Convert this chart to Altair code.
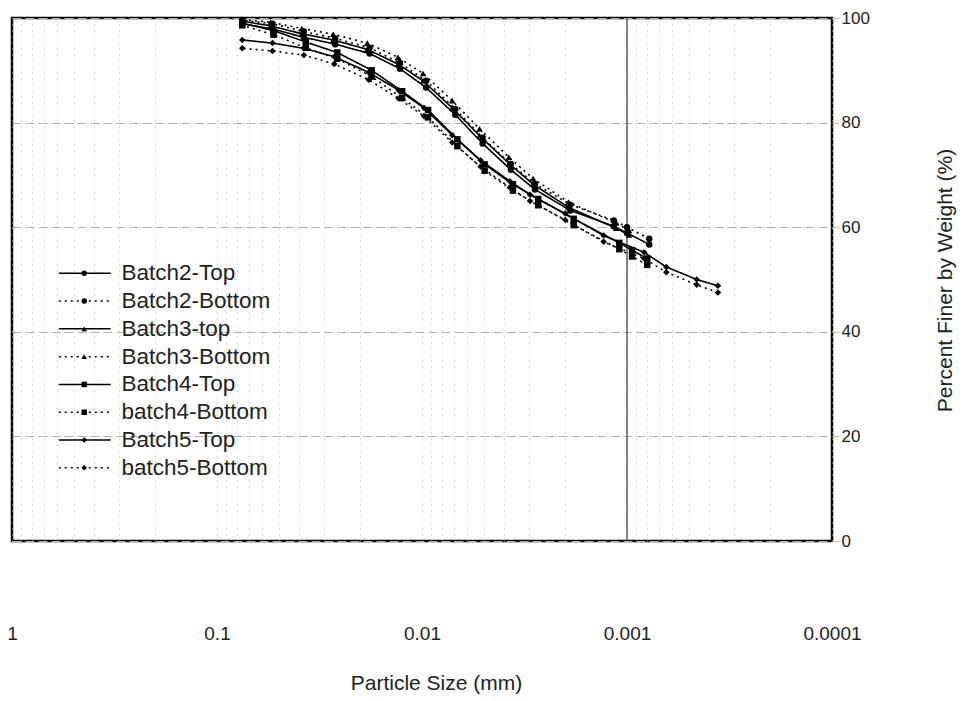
import altair as alt
import pandas as pd

series_names = ["Batch2-Top", "Batch2-Bottom", "Batch3-top", "Batch3-Bottom",
                "Batch4-Top", "batch4-Bottom", "Batch5-Top", "batch5-Bottom"]

# Particle sizes (mm) and percent finer
b2_size = [0.0753, 0.0536, 0.0377, 0.0265, 0.0180, 0.0128, 0.00955, 0.00688,
           0.00506, 0.00369, 0.00281, 0.00189, 0.00116, 0.00100, 0.000779]
b2_top = [98.9, 97.9, 96.3, 95.0, 93.2, 90.3, 86.7, 81.5, 76.0, 71.0, 67.2, 63.2, 60.2, 58.9, 56.7]
b2_bot = [99.6, 98.9, 97.4, 96.1, 94.3, 91.4, 88.0, 82.6, 77.1, 72.1, 68.3, 64.3, 61.3, 60.0, 57.8]

b3_size = [0.0753, 0.0548, 0.0386, 0.0271, 0.0185, 0.0131, 0.00989, 0.00712,
           0.00524, 0.00377, 0.00287, 0.00193, 0.00113, 0.000977]
b3_top = [99.4, 98.5, 97.0, 95.8, 94.0, 91.2, 88.0, 82.8, 77.5, 72.2, 68.2, 63.8, 59.8, 58.5]
b3_bot = [99.7, 99.2, 98.0, 96.9, 95.2, 92.5, 89.4, 84.2, 78.8, 73.4, 69.3, 64.8, 60.8, 59.4]

b4_size = [0.0753, 0.0530, 0.0369, 0.0259, 0.0176, 0.0125, 0.00934, 0.00672,
           0.00495, 0.00360, 0.00271, 0.00182, 0.00109, 0.000945, 0.000797]
b4_top = [99.0, 97.6, 95.4, 93.4, 90.0, 86.0, 82.4, 76.8, 72.0, 68.2, 65.4, 61.6, 57.0, 55.6, 54.0]
b4_bot = [98.6, 96.8, 94.3, 92.2, 88.8, 84.7, 81.0, 75.5, 70.8, 67.0, 64.2, 60.4, 55.8, 54.4, 52.8]

b5_size = [0.0753, 0.0536, 0.0377, 0.0268, 0.0182, 0.0130, 0.00977, 0.00712, 0.00518,
           0.00373, 0.00297, 0.00200, 0.00130, 0.000825, 0.000643, 0.000457, 0.000360]
b5_top = [95.8, 95.2, 94.2, 92.6, 89.6, 86.2, 82.8, 77.6, 72.8, 68.8, 66.2, 62.6, 58.4,
          55.2, 52.4, 50.0, 48.8]
b5_bot = [94.2, 93.7, 92.9, 91.2, 88.2, 84.6, 81.2, 76.2, 71.6, 67.6, 65.0, 61.4, 57.2,
          54.0, 51.4, 49.0, 47.5]

y_ticks = [0, 20, 40, 60, 80, 100]
solid_grid = [0.001]

sets = [
    ("Batch2-Top", b2_size, b2_top), ("Batch2-Bottom", b2_size, b2_bot),
    ("Batch3-top", b3_size, b3_top), ("Batch3-Bottom", b3_size, b3_bot),
    ("Batch4-Top", b4_size, b4_top), ("batch4-Bottom", b4_size, b4_bot),
    ("Batch5-Top", b5_size, b5_top), ("batch5-Bottom", b5_size, b5_bot),
]
rows = []
for name, sizes, vals in sets:
    for d, v in zip(sizes, vals):
        rows.append({"size": d, "pct": v, "series": name, "marker": name})
df = pd.DataFrame(rows)

dash_range = [[1, 0], [2, 4], [1, 0], [2, 4], [1, 0], [2, 4], [1, 0], [2, 4]]
shape_range = ["circle", "circle", "triangle-up", "triangle-up",
               "square", "square", "diamond", "diamond"]

grid_vals = sorted({round(m * 10 ** k, 6) for k in range(-4, 0) for m in range(1, 10)} | {1.0})
label_expr = ("datum.value == 1 ? '1' : datum.value == 0.1 ? '0.1' : datum.value == 0.01 ? '0.01' : "
              "datum.value == 0.001 ? '0.001' : datum.value == 0.0001 ? '0.0001' : ''")

FONT = "Liberation Sans"
xscale = alt.Scale(type="log", domain=[0.0001, 1], reverse=True, nice=False)
yscale = alt.Scale(domain=[0, 100], nice=False)

x_axis = alt.Axis(values=grid_vals, labelExpr=label_expr, grid=True, gridColor="#b5b5b5",
                  gridDash=[1, 5], gridWidth=1, ticks=False, domain=False,
                  labelPadding=83, labelFontSize=19, labelFont=FONT, labelColor="#222",
                  labelOverlap=False, labelFlush=False,
                  title="Particle Size (mm)", titleFont=FONT, titleFontSize=21,
                  titleFontWeight="normal", titleColor="#222", titleX=424, titleY=142,
                  titleBaseline="middle", titleAlign="center")
y_axis = alt.Axis(orient="right", values=y_ticks, grid=True, gridColor="#b0b0b0",
                  gridDash=[9, 4], gridWidth=1, tickColor="#bbbbbb", tickSize=7,
                  domain=False, labelPadding=2, labelFontSize=17, labelFont=FONT,
                  labelColor="#222", title="Percent Finer by Weight (%)", titleFont=FONT,
                  titleFontSize=21, titleFontWeight="normal", titleColor="#222",
                  titleAngle=270, titleX=113, titleY=262, titleAlign="center",
                  titleBaseline="middle")

base = alt.Chart(df)

rule = alt.Chart(pd.DataFrame({"size": solid_grid})).mark_rule(
    color="#444", strokeWidth=1.3).encode(x=alt.X("size:Q", scale=xscale))

lines = base.mark_line(color="black", strokeWidth=1.6).encode(
    x=alt.X("size:Q", scale=xscale, axis=x_axis),
    y=alt.Y("pct:Q", scale=yscale, axis=y_axis),
    strokeDash=alt.StrokeDash(
        "series:N", scale=alt.Scale(domain=series_names, range=dash_range),
        legend=alt.Legend(title=None, orient="none", legendX=61.5, legendY=244,
                          symbolType="M-10,0H10", symbolSize=27, symbolStrokeWidth=1.5,
                          symbolStrokeColor="black", labelFontSize=22.5, labelFont=FONT,
                          labelColor="#222", labelOffset=25.5, rowPadding=4.8, padding=0)),
    order=alt.Order("size:Q"),
)

points = base.mark_point(filled=True, size=42, color="black", opacity=1).encode(
    x=alt.X("size:Q", scale=xscale),
    y=alt.Y("pct:Q", scale=yscale),
    shape=alt.Shape(
        "marker:N", sort=series_names, scale=alt.Scale(range=shape_range),
        legend=alt.Legend(title=None, orient="none", legendX=61, legendY=244,
                          symbolSize=30, symbolFillColor="black", symbolStrokeColor="black",
                          symbolStrokeWidth=0, labelFontSize=22.5, labelFont=FONT,
                          labelExpr="''", labelOffset=11, rowPadding=4.8, padding=0)),
)

chart = alt.layer(rule, lines, points).properties(
    width=820, height=523,
    autosize=alt.AutoSizeParams(type="none"),
    padding={"left": 12, "top": 18, "right": 133, "bottom": 160},
    background="white",
).configure_view(stroke="black", strokeWidth=2.5)

chart.save("out.html", embed_options={"renderer": "svg", "actions": False})
